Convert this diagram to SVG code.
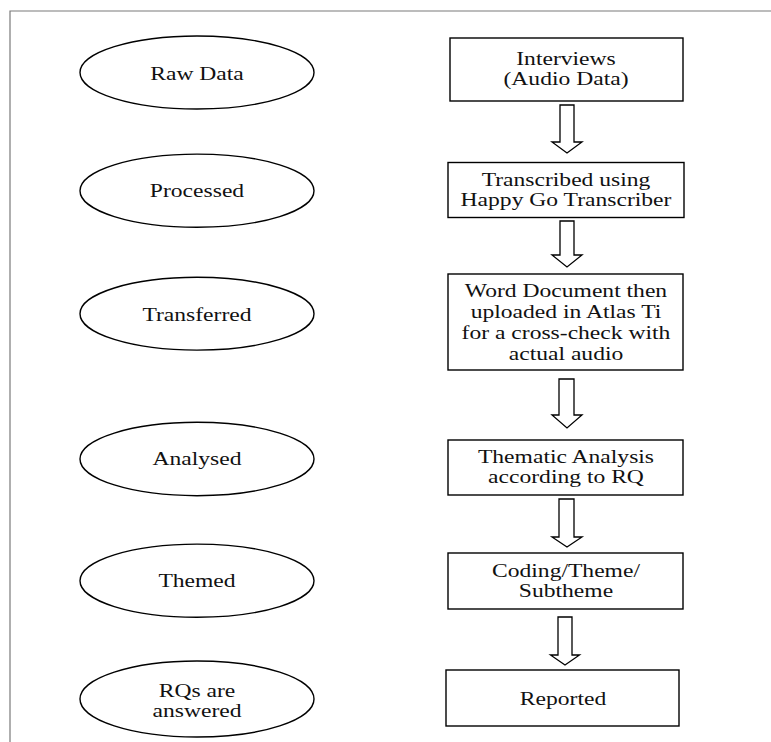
<svg xmlns="http://www.w3.org/2000/svg" width="771" height="742" viewBox="0 0 771 742">
<style>
.frame{fill:none;stroke:#7a7a7a;stroke-width:1.2}
.ell{fill:#fff;stroke:#000;stroke-width:1.4}
.box{fill:#fff;stroke:#000;stroke-width:1.4}
.arr{fill:#fff;stroke:#000;stroke-width:1.3;stroke-linejoin:miter}
text{font-family:"Liberation Serif","Times New Roman",serif;font-size:18px;fill:#111;text-anchor:middle}
</style>
<rect width="771" height="742" fill="#fff"/>
<path class="frame" d="M10,742 V11 H771"/>
<g id="n-raw"><ellipse class="ell" cx="197" cy="72.5" rx="117" ry="36.5"/><text transform="matrix(1.31 0 0 1 -61.07 0)" x="197" y="80.5">Raw Data</text></g>
<g id="n-processed"><ellipse class="ell" cx="197" cy="190.7" rx="117" ry="36.6"/><text transform="matrix(1.31 0 0 1 -61.07 0)" x="197" y="196.7">Processed</text></g>
<g id="n-transferred"><ellipse class="ell" cx="197" cy="313.7" rx="117" ry="36.4"/><text transform="matrix(1.31 0 0 1 -61.07 0)" x="197" y="320.7">Transferred</text></g>
<g id="n-analysed"><ellipse class="ell" cx="197" cy="459" rx="117" ry="36.7"/><text transform="matrix(1.31 0 0 1 -61.07 0)" x="197" y="465">Analysed</text></g>
<g id="n-themed"><ellipse class="ell" cx="197" cy="580.7" rx="117" ry="36.6"/><text transform="matrix(1.31 0 0 1 -61.07 0)" x="197" y="587.5">Themed</text></g>
<g id="n-rqs"><ellipse class="ell" cx="197" cy="699" rx="117" ry="38"/><text transform="matrix(1.31 0 0 1 -61.07 0)" x="197" y="696.7">RQs are</text><text transform="matrix(1.31 0 0 1 -61.07 0)" x="197" y="716.7">answered</text></g>
<g id="b-interviews"><rect class="box" x="450" y="38" width="233" height="63"/><g transform="matrix(1.31 0 0 1 -175.46 0)"><text x="566" y="65">Interviews</text><text x="566" y="85">(Audio Data)</text></g></g>
<g id="b-transcribed"><rect class="box" x="448" y="162.5" width="236" height="55"/><g transform="matrix(1.31 0 0 1 -175.46 0)"><text x="566" y="186">Transcribed using</text><text x="566" y="206">Happy Go Transcriber</text></g></g>
<g id="b-word"><rect class="box" x="448" y="274" width="235" height="96"/><g transform="matrix(1.31 0 0 1 -175.46 0)"><text x="566" y="297">Word Document then</text><text x="566" y="318">uploaded in Atlas Ti</text><text x="566" y="339">for a cross-check with</text><text x="566" y="360">actual audio</text></g></g>
<g id="b-thematic"><rect class="box" x="448" y="440" width="235" height="55"/><g transform="matrix(1.31 0 0 1 -175.46 0)"><text x="566" y="462.7">Thematic Analysis</text><text x="566" y="483">according to RQ</text></g></g>
<g id="b-coding"><rect class="box" x="448" y="553" width="235" height="56"/><g transform="matrix(1.31 0 0 1 -175.46 0)"><text x="566" y="576.7">Coding/Theme/</text><text x="566" y="597">Subtheme</text></g></g>
<g id="b-reported"><rect class="box" x="446" y="670" width="233" height="56"/><g transform="matrix(1.31 0 0 1 -174.53 0)"><text x="563" y="705">Reported</text></g></g>
<g id="connectors">
<path class="arr" d="M560,105 H574 V142 H582 L567,153 L552,142 H560 Z"/>
<path class="arr" d="M560,221 H574 V255 H582 L567,267 L552,255 H560 Z"/>
<path class="arr" d="M559,379 H574 V415 H582 L567,428 L552,415 H559 Z"/>
<path class="arr" d="M559,499 H574 V537 H582 L567,547 L552,537 H559 Z"/>
<path class="arr" d="M558,617 H572 V655 H579.5 L565,665 L550.5,655 H558 Z"/>
</g>
</svg>
